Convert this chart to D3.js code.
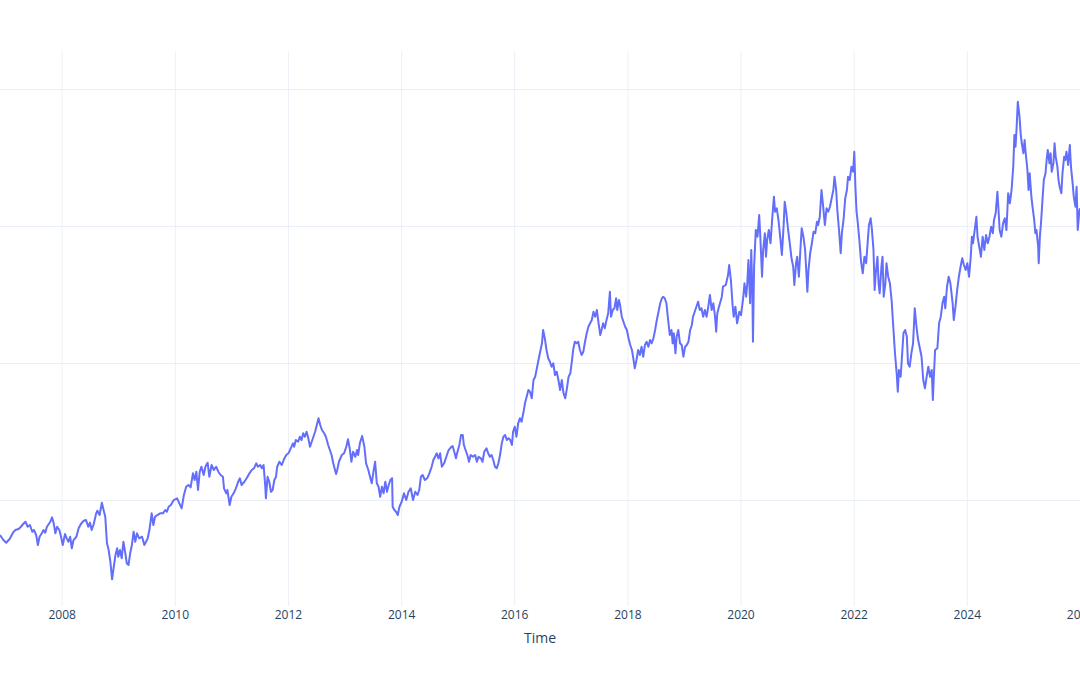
<!DOCTYPE html>
<html>
<head>
<meta charset="utf-8">
<script src="https://cdn.jsdelivr.net/npm/d3@7"></script>
<style>
  html, body { margin: 0; padding: 0; background: #ffffff; overflow: hidden; }
  svg { display: block; font-family: "Open Sans", verdana, arial, sans-serif; }
</style>
</head>
<body>
<svg id="chart" width="1080" height="675"></svg>
<script>
// ---- data (decimal years and values) ----
const years = [
  2006.91,2006.97,2007.02,2007.08,2007.14,2007.18,2007.24,2007.28,2007.32,2007.36,
  2007.40,2007.44,2007.48,2007.51,2007.55,2007.58,2007.61,2007.65,2007.68,2007.71,
  2007.74,2007.80,2007.83,2007.86,2007.89,2007.92,2007.96,2007.99,2008.02,2008.06,
  2008.09,2008.12,2008.15,2008.18,2008.21,2008.26,2008.30,2008.34,2008.39,2008.43,
  2008.47,2008.50,2008.53,2008.57,2008.61,2008.63,2008.67,2008.71,2008.74,2008.77,
  2008.80,2008.83,2008.86,2008.89,2008.92,2008.95,2008.98,2009.00,2009.03,2009.06,
  2009.09,2009.12,2009.15,2009.18,2009.21,2009.24,2009.27,2009.30,2009.33,2009.37,
  2009.42,2009.46,2009.49,2009.52,2009.55,2009.59,2009.62,2009.65,2009.69,2009.74,
  2009.79,2009.83,2009.86,2009.89,2009.93,2009.98,2010.04,2010.08,2010.12,2010.16,
  2010.20,2010.24,2010.28,2010.32,2010.35,2010.38,2010.41,2010.44,2010.47,2010.51,
  2010.54,2010.58,2010.61,2010.65,2010.69,2010.73,2010.77,2010.81,2010.85,2010.87,
  2010.91,2010.93,2010.97,2011.00,2011.04,2011.08,2011.12,2011.15,2011.18,2011.23,
  2011.27,2011.32,2011.36,2011.40,2011.44,2011.47,2011.51,2011.54,2011.57,2011.60,
  2011.61,2011.64,2011.67,2011.70,2011.73,2011.76,2011.79,2011.81,2011.85,2011.89,
  2011.93,2011.97,2012.01,2012.05,2012.09,2012.11,2012.14,2012.18,2012.21,2012.24,
  2012.27,2012.30,2012.33,2012.36,2012.39,2012.42,2012.45,2012.48,2012.51,2012.54,
  2012.57,2012.60,2012.64,2012.67,2012.71,2012.74,2012.77,2012.80,2012.85,2012.87,
  2012.90,2012.95,2012.99,2013.03,2013.06,2013.09,2013.12,2013.15,2013.19,2013.22,
  2013.24,2013.27,2013.31,2013.35,2013.38,2013.42,2013.45,2013.48,2013.51,2013.54,
  2013.57,2013.60,2013.63,2013.66,2013.69,2013.72,2013.75,2013.78,2013.81,2013.84,
  2013.85,2013.88,2013.91,2013.94,2013.97,2014.01,2014.05,2014.09,2014.13,2014.17,
  2014.21,2014.25,2014.29,2014.32,2014.35,2014.38,2014.42,2014.46,2014.50,2014.54,
  2014.57,2014.60,2014.63,2014.66,2014.69,2014.72,2014.76,2014.81,2014.84,2014.88,
  2014.91,2014.94,2014.97,2014.99,2015.03,2015.06,2015.09,2015.11,2015.15,2015.18,
  2015.20,2015.23,2015.27,2015.31,2015.34,2015.37,2015.41,2015.44,2015.47,2015.51,
  2015.54,2015.57,2015.60,2015.63,2015.66,2015.69,2015.72,2015.75,2015.78,2015.81,
  2015.84,2015.87,2015.90,2015.93,2015.96,2015.98,2016.01,2016.04,2016.07,2016.10,
  2016.13,2016.16,2016.19,2016.22,2016.25,2016.28,2016.31,2016.34,2016.37,2016.40,
  2016.44,2016.49,2016.51,2016.54,2016.57,2016.60,2016.63,2016.66,2016.69,2016.72,
  2016.75,2016.78,2016.81,2016.84,2016.87,2016.90,2016.93,2016.96,2016.99,2017.02,
  2017.04,2017.07,2017.10,2017.13,2017.16,2017.19,2017.22,2017.25,2017.28,2017.31,
  2017.34,2017.37,2017.40,2017.43,2017.46,2017.49,2017.52,2017.55,2017.57,2017.60,
  2017.63,2017.66,2017.69,2017.71,2017.74,2017.77,2017.80,2017.82,2017.85,2017.87,
  2017.90,2017.93,2017.96,2017.99,2018.02,2018.05,2018.08,2018.10,2018.13,2018.16,
  2018.19,2018.22,2018.25,2018.28,2018.31,2018.34,2018.37,2018.40,2018.43,2018.46,
  2018.49,2018.52,2018.55,2018.58,2018.61,2018.63,2018.66,2018.69,2018.72,2018.75,
  2018.78,2018.80,2018.82,2018.85,2018.87,2018.90,2018.93,2018.96,2018.99,2019.02,
  2019.05,2019.08,2019.11,2019.14,2019.16,2019.19,2019.22,2019.25,2019.28,2019.31,
  2019.34,2019.37,2019.40,2019.43,2019.46,2019.49,2019.52,2019.55,2019.57,2019.59,
  2019.62,2019.67,2019.69,2019.74,2019.78,2019.80,2019.83,2019.86,2019.88,2019.91,
  2019.94,2019.98,2020.01,2020.05,2020.07,2020.10,2020.12,2020.14,2020.17,2020.19,
  2020.21,2020.22,2020.24,2020.27,2020.30,2020.33,2020.35,2020.38,2020.40,2020.43,
  2020.45,2020.47,2020.50,2020.53,2020.56,2020.59,2020.61,2020.64,2020.67,2020.70,
  2020.73,2020.76,2020.78,2020.81,2020.84,2020.87,2020.90,2020.93,2020.95,2020.98,
  2021.00,2021.03,2021.06,2021.08,2021.11,2021.14,2021.16,2021.18,2021.20,2021.23,
  2021.26,2021.29,2021.32,2021.35,2021.37,2021.40,2021.43,2021.46,2021.49,2021.52,
  2021.55,2021.58,2021.61,2021.64,2021.66,2021.69,2021.71,2021.74,2021.77,2021.79,
  2021.82,2021.85,2021.88,2021.90,2021.93,2021.96,2021.99,2022.01,2022.03,2022.05,
  2022.07,2022.10,2022.13,2022.16,2022.19,2022.22,2022.25,2022.27,2022.30,2022.32,
  2022.35,2022.37,2022.39,2022.42,2022.44,2022.46,2022.49,2022.51,2022.53,2022.56,
  2022.58,2022.61,2022.64,2022.67,2022.70,2022.73,2022.76,2022.78,2022.80,2022.83,
  2022.85,2022.88,2022.91,2022.94,2022.96,2022.99,2023.02,2023.05,2023.08,2023.11,
  2023.14,2023.17,2023.20,2023.23,2023.26,2023.29,2023.32,2023.35,2023.38,2023.40,
  2023.42,2023.44,2023.48,2023.51,2023.54,2023.57,2023.60,2023.62,2023.65,2023.68,
  2023.71,2023.75,2023.77,2023.80,2023.83,2023.86,2023.89,2023.92,2023.95,2023.98,
  2024.01,2024.04,2024.07,2024.09,2024.11,2024.14,2024.17,2024.19,2024.22,2024.25,
  2024.28,2024.31,2024.34,2024.37,2024.40,2024.43,2024.46,2024.48,2024.51,2024.54,
  2024.56,2024.58,2024.61,2024.64,2024.67,2024.70,2024.73,2024.76,2024.79,2024.82,
  2024.84,2024.86,2024.88,2024.90,2024.93,2024.95,2024.97,2025.00,2025.02,2025.04,
  2025.07,2025.09,2025.11,2025.14,2025.16,2025.19,2025.21,2025.23,2025.26,2025.27,
  2025.29,2025.31,2025.34,2025.36,2025.39,2025.41,2025.43,2025.46,2025.48,2025.50,
  2025.53,2025.55,2025.57,2025.60,2025.62,2025.64,2025.67,2025.69,2025.72,2025.74,
  2025.76,2025.79,2025.82,2025.84,2025.87,2025.89,2025.92,2025.94,2025.96,2025.99,
  2026.00
];

const values = [
  14.89,14.16,13.77,14.31,15.23,15.62,15.77,16.10,16.50,16.83,
  16.10,16.35,15.37,15.62,14.89,13.43,14.64,15.14,15.62,15.23,
  16.10,16.83,17.47,16.60,15.14,16.10,15.62,14.64,13.43,15.04,
  14.41,13.91,14.64,12.95,14.16,14.64,15.87,16.50,16.98,17.08,
  16.10,16.69,15.62,16.60,18.06,18.44,17.81,19.61,18.54,17.56,
  13.68,12.70,10.99,8.42,10.26,11.97,12.95,11.72,12.70,11.49,
  13.91,12.45,10.76,10.51,12.22,13.43,15.37,13.91,15.14,14.41,
  14.64,13.43,13.91,14.41,15.62,18.06,16.35,17.56,17.81,18.06,
  18.06,18.54,18.29,19.02,19.27,20.00,20.25,19.52,18.79,20.73,
  21.94,22.19,21.85,23.90,22.92,24.13,21.46,24.13,24.86,23.65,
  24.86,25.45,23.40,25.11,24.38,24.86,24.13,23.65,23.40,21.71,
  20.98,21.46,19.27,20.48,20.98,21.71,22.67,23.17,22.19,22.67,
  23.17,23.90,24.38,24.63,25.36,24.86,25.11,24.63,25.11,21.94,
  20.25,23.40,22.67,21.21,21.46,22.92,23.40,24.86,25.59,25.11,
  25.94,26.57,26.82,27.55,28.28,27.78,28.76,28.51,29.24,28.76,
  29.74,29.24,29.97,29.01,27.78,28.51,29.24,29.97,30.95,31.93,
  30.95,30.22,29.74,29.24,28.03,27.30,26.57,25.36,23.80,24.38,
  25.59,26.57,26.82,27.78,28.86,27.55,25.59,27.05,26.32,27.30,
  26.57,28.28,29.34,27.78,25.36,24.38,23.40,22.44,24.13,25.59,
  22.44,21.94,20.48,21.94,20.98,22.67,21.21,22.19,22.92,23.17,
  19.02,18.54,18.29,17.81,19.02,19.75,20.98,20.00,21.21,21.71,
  20.00,21.21,20.73,21.46,23.40,23.65,22.92,23.17,23.90,24.86,
  25.84,26.32,26.82,26.09,26.82,24.86,25.36,26.57,27.30,27.69,
  27.88,27.05,26.09,26.82,28.03,29.49,29.49,28.03,27.05,26.32,
  25.59,26.57,26.32,26.57,25.59,26.32,26.09,25.59,27.05,27.55,
  26.82,26.32,26.57,25.84,24.86,24.63,25.36,26.57,28.28,29.24,
  29.49,28.76,29.01,28.76,28.03,29.97,30.70,29.24,31.20,31.93,
  31.43,32.66,34.12,35.08,36.06,35.77,34.85,37.52,38.00,39.23,
  40.92,42.88,44.82,43.61,41.90,40.69,40.19,39.46,39.96,38.25,
  38.73,37.52,36.06,37.52,35.58,34.85,36.31,38.00,38.50,40.44,
  41.90,43.11,42.88,43.11,41.90,41.17,41.65,43.11,44.34,45.30,
  45.80,46.28,47.49,46.76,47.74,45.80,44.09,45.07,45.80,45.07,
  46.28,47.26,50.41,46.76,47.74,47.99,49.45,47.74,49.20,48.47,
  46.76,46.03,45.30,44.82,43.61,42.63,41.90,40.92,39.23,40.44,
  41.90,41.17,42.38,40.92,42.63,43.11,42.38,43.36,42.88,43.61,
  44.82,46.28,47.49,48.72,49.45,49.68,49.45,48.72,46.28,44.09,
  44.82,42.88,44.34,41.42,43.84,44.82,42.88,42.63,40.92,42.38,
  42.63,43.11,44.82,45.55,46.76,47.49,48.22,48.95,47.74,47.99,
  46.76,47.74,46.76,48.22,49.93,47.74,48.72,46.76,44.57,47.26,
  48.22,49.68,51.14,51.39,52.85,54.31,52.12,48.47,46.76,48.22,
  45.80,47.49,47.01,49.68,51.64,49.68,51.64,55.04,48.72,56.50,
  50.18,43.11,54.06,59.42,58.44,61.61,58.44,52.60,56.50,58.94,
  55.52,57.96,59.42,57.48,61.13,64.28,62.09,62.59,60.88,58.44,
  55.77,59.90,63.55,61.86,59.42,57.48,55.29,54.06,51.39,54.56,
  55.52,52.60,56.98,59.67,58.44,56.50,53.58,50.41,53.58,56.02,
  57.48,59.17,58.94,60.63,60.15,61.36,65.26,62.82,60.15,62.59,
  62.09,62.82,64.05,65.26,67.20,65.26,62.34,59.42,56.02,58.94,
  60.88,64.05,65.26,67.20,66.72,68.66,67.93,70.85,65.74,62.09,
  60.63,57.96,54.79,53.10,55.52,54.56,57.96,60.15,61.13,59.67,
  56.50,50.66,53.10,55.52,51.64,50.18,54.06,55.52,49.68,51.64,
  54.56,52.60,51.64,49.20,45.30,41.42,38.50,35.81,38.98,38.00,
  40.44,44.34,44.82,43.84,39.96,39.46,41.42,42.88,47.99,45.30,
  43.36,42.15,40.92,37.52,36.31,38.00,39.46,38.00,38.98,34.60,
  38.50,41.90,42.15,45.80,46.76,48.72,49.68,47.99,51.14,52.60,
  51.64,48.72,46.28,48.22,50.66,52.60,54.06,55.29,54.31,53.58,
  54.56,52.60,55.52,58.44,57.48,59.42,61.36,58.44,56.98,55.52,
  58.44,56.50,58.69,57.48,58.44,59.90,58.94,60.88,61.86,65.01,
  62.34,59.42,58.44,60.40,61.13,59.42,64.78,63.32,65.26,68.66,
  73.29,71.58,74.50,78.15,75.96,73.54,72.08,70.62,72.56,70.62,
  68.18,65.26,67.70,64.28,62.82,60.88,58.94,59.42,56.98,54.56,
  58.44,60.40,64.28,66.72,67.70,69.64,71.10,69.16,70.62,67.93,
  69.16,72.08,70.12,68.66,66.72,65.74,64.78,67.70,70.12,69.64,
  70.85,68.91,71.83,68.66,66.24,64.28,62.82,65.74,59.42,62.34,
  62.59
];

const xTickYears = [2008, 2010, 2012, 2014, 2016, 2018, 2020, 2022, 2024, 2026];
const yTickValues = [20, 40, 60, 80];
const yAxisRange = [4.53, 85.55];
const xAxisTitle = "Time";

// ---- layout ----
const W = 1080, H = 675;
const plot = { left: 0, right: 1080, top: 51, bottom: 606 };

function decimalYearToDate(t) {
  const y = Math.floor(t);
  const a = Date.UTC(y, 0, 1), b = Date.UTC(y + 1, 0, 1);
  return new Date(a + (t - y) * (b - a));
}

const n = Math.min(years.length, values.length);
const data = d3.range(n).map(i => ({ date: decimalYearToDate(years[i]), value: values[i] }));

const x = d3.scaleUtc()
  .domain(d3.extent(data, d => d.date))
  .range([plot.left, plot.right]);

const y = d3.scaleLinear()
  .domain(yAxisRange)
  .range([plot.bottom, plot.top]);

const svg = d3.select("#chart");
svg.append("rect").attr("width", W).attr("height", H).attr("fill", "#ffffff");

// horizontal gridlines (y axis, labels fall outside the view)
const yAxis = d3.axisLeft(y)
  .tickValues(yTickValues)
  .tickSize(-(plot.right - plot.left))
  .tickFormat("");
const gy = svg.append("g").attr("transform", `translate(${plot.left},0)`).call(yAxis);
gy.select(".domain").remove();
gy.selectAll(".tick line").attr("stroke", "#EBF0F8").attr("stroke-width", 1);

// vertical gridlines + tick labels
const xAxis = d3.axisBottom(x)
  .tickValues(xTickYears.map(yr => new Date(Date.UTC(yr, 0, 1))))
  .tickSize(-(plot.bottom - plot.top))
  .tickPadding(4.5)
  .tickFormat(d3.utcFormat("%Y"));
const gx = svg.append("g").attr("transform", `translate(0,${plot.bottom})`).call(xAxis);
gx.select(".domain").remove();
gx.selectAll(".tick line").attr("stroke", "#EBF0F8").attr("stroke-width", 1);
gx.selectAll(".tick text")
  .attr("fill", "#2a3f5f")
  .style("font-size", "12px")
  .style("font-family", "'Open Sans', verdana, arial, sans-serif");

// clip + line
svg.append("clipPath").attr("id", "plotClip")
  .append("rect")
  .attr("x", plot.left).attr("y", plot.top - 2)
  .attr("width", plot.right - plot.left).attr("height", plot.bottom - plot.top + 4);

const line = d3.line()
  .x(d => x(d.date))
  .y(d => y(d.value));

svg.append("path")
  .datum(data)
  .attr("clip-path", "url(#plotClip)")
  .attr("fill", "none")
  .attr("stroke", "#636efa")
  .attr("stroke-width", 2)
  .attr("stroke-linejoin", "round")
  .attr("d", line);

// axis title
svg.append("text")
  .attr("x", (plot.left + plot.right) / 2)
  .attr("y", 642.7)
  .attr("text-anchor", "middle")
  .attr("fill", "#2a3f5f")
  .style("font-size", "14px")
  .style("font-family", "'Open Sans', verdana, arial, sans-serif")
  .text(xAxisTitle);
</script>
</body>
</html>
